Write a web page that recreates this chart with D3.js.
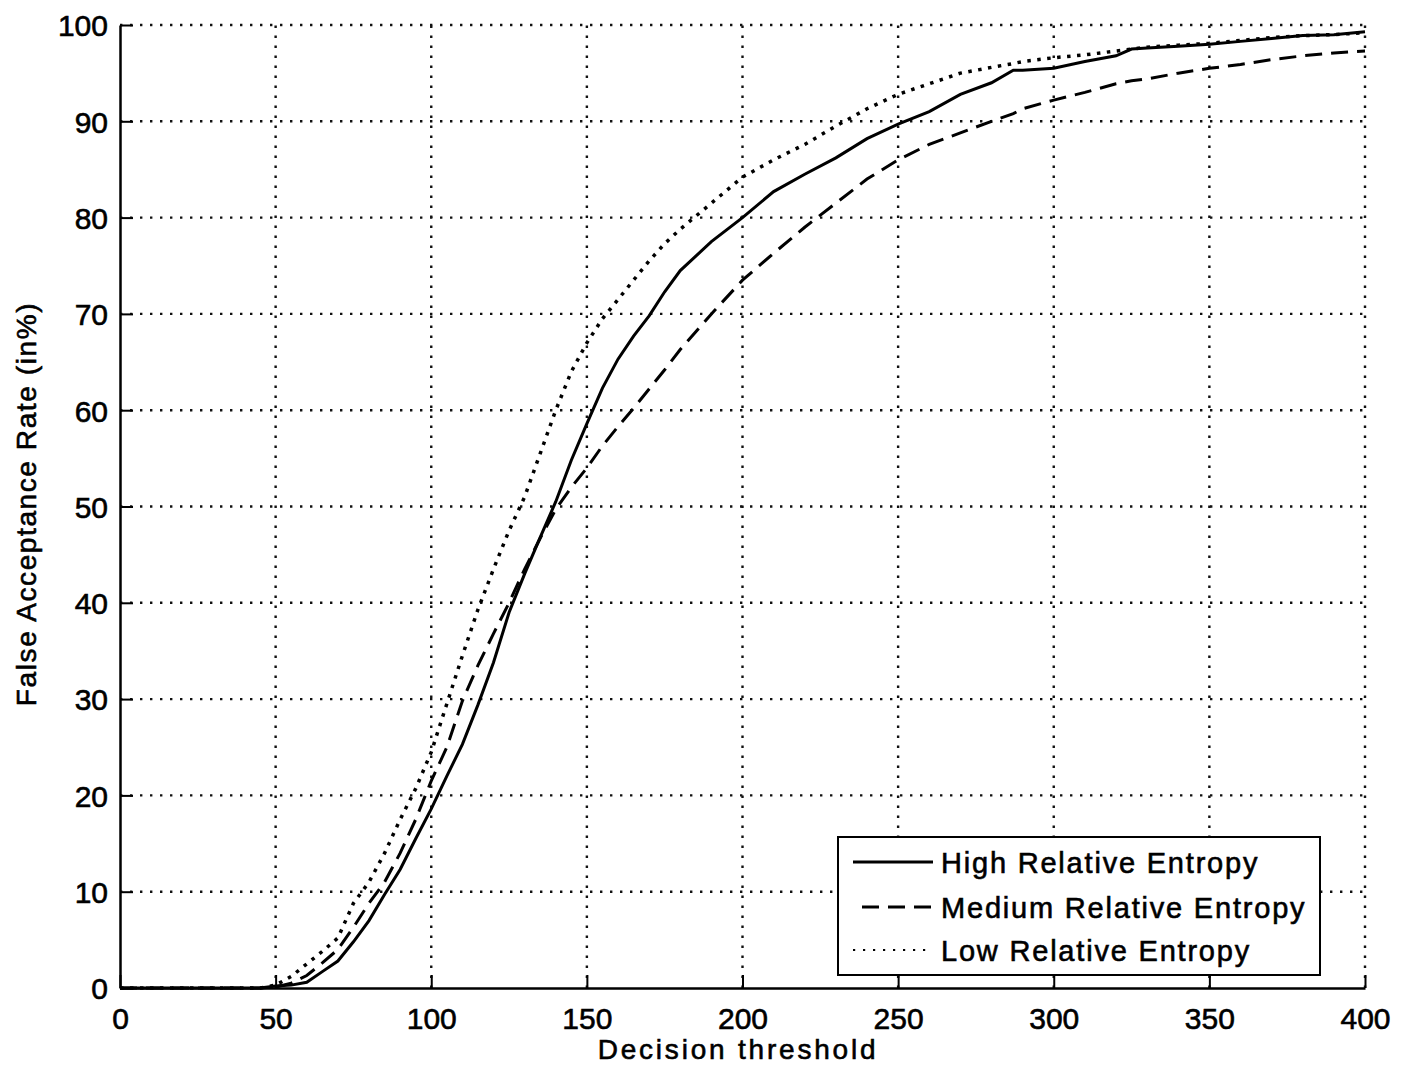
<!DOCTYPE html>
<html>
<head>
<meta charset="utf-8">
<script src="https://d3js.org/d3.v7.min.js"></script>
<style>
  body { margin: 0; background: #fff; }
  text { font-family: "Liberation Sans", Arial, sans-serif; fill: #000; stroke: #000; stroke-width: 0.6px; }
</style>
</head>
<body>
<div id="chart"></div>
<script>
// decision threshold values (x)
var thresholds = [0, 45, 50, 55, 60, 65, 70, 75, 80, 85, 90, 95, 100, 105, 110, 115, 120, 125, 130, 135,
  140, 145, 150, 155, 160, 165, 170, 175, 180, 190, 200, 210, 220, 230, 240, 250, 260, 270, 280, 287,
  290, 300, 310, 320, 325, 330, 340, 350, 360, 370, 380, 390, 400];

// false acceptance rate (%) per series
var farHigh = [0, 0, 0.2, 0.3, 0.6, 1.7, 2.8, 4.8, 7, 9.7, 12.3, 15.5, 18.6, 22, 25.3, 29.4, 33.8, 39, 43, 46.8,
  50.5, 54.8, 58.6, 62.3, 65.3, 67.7, 69.8, 72.3, 74.5, 77.5, 80, 82.7, 84.5, 86.2, 88.2, 89.7, 91, 92.8, 94, 95.3,
  95.3, 95.5, 96.2, 96.8, 97.5, 97.6, 97.8, 98, 98.3, 98.6, 98.9, 99, 99.3];
var farMedium = [0, 0, 0.1, 0.5, 1.3, 2.6, 4, 6.3, 8.8, 11, 14, 17.5, 21.5, 25, 29.8, 33.5, 36.8, 40, 43.5, 46.7,
  49.7, 52, 54, 56.3, 58.3, 60.2, 62.2, 64.2, 66.3, 70, 73.5, 76.3, 79, 81.5, 84, 86, 87.6, 88.8, 90, 90.8,
  91.3, 92.2, 93, 93.9, 94.2, 94.4, 95, 95.5, 95.9, 96.4, 96.8, 97.1, 97.3];
var farLow = [0, 0, 0.3, 1.2, 2.5, 3.8, 5.2, 8.8, 11, 14, 17.5, 20.7, 24.5, 29.5, 34.5, 39.3, 43.5, 47.5, 51, 55.5,
  60, 64, 67, 69.5, 71.5, 73.5, 75.5, 77.3, 78.8, 81.5, 84.2, 86, 87.6, 89.5, 91.3, 92.8, 93.9, 95, 95.6, 96,
  96.2, 96.6, 96.9, 97.3, 97.5, 97.7, 97.9, 98.1, 98.4, 98.7, 98.9, 99, 99.2];

var seriesNames = ["High Relative Entropy", "Medium Relative Entropy", "Low Relative Entropy"];
var xTicks = [0, 50, 100, 150, 200, 250, 300, 350, 400];
var yTicks = [0, 10, 20, 30, 40, 50, 60, 70, 80, 90, 100];

var W = 1405, H = 1066;
var svg = d3.select("#chart").append("svg").attr("width", W).attr("height", H);

var x = d3.scaleLinear().domain([0, 400]).range([120, 1365]);
var y = d3.scaleLinear().domain([0, 100]).range([988, 25]);

// dotted grid
svg.selectAll(".vgrid").data(xTicks.slice(1)).enter().append("line")
  .attr("x1", d => x(d)).attr("x2", d => x(d))
  .attr("y1", y(0)).attr("y2", y(100))
  .attr("stroke", "#111").attr("stroke-width", 2.4).attr("stroke-dasharray", "2.4,7.6");
svg.selectAll(".hgrid").data(yTicks.slice(1)).enter().append("line")
  .attr("x1", x(0)).attr("x2", x(400))
  .attr("y1", d => y(d)).attr("y2", d => y(d))
  .attr("stroke", "#111").attr("stroke-width", 2.4).attr("stroke-dasharray", "2.4,7.6");

// axes (left + bottom only, ticks inward)
var xAxis = d3.axisBottom(x).tickValues(xTicks).tickSizeInner(-13).tickSizeOuter(0).tickPadding(20);
var yAxis = d3.axisLeft(y).tickValues(yTicks).tickSizeInner(-13).tickSizeOuter(0).tickPadding(12);

var gx = svg.append("g").attr("transform", "translate(0," + y(0) + ")").call(xAxis);
var gy = svg.append("g").attr("transform", "translate(" + x(0) + ",0)").call(yAxis);
[gx, gy].forEach(function (g) {
  g.select(".domain").attr("stroke", "#000").attr("stroke-width", 2.5);
  g.selectAll(".tick line").attr("stroke", "#000").attr("stroke-width", 2);
  g.selectAll(".tick text").style("font-size", "30px").style("font-family", "Liberation Sans, Arial, sans-serif")
    .attr("fill", "#000").attr("stroke", "#000").attr("stroke-width", 0.6);
});
gx.selectAll(".tick text").attr("dy", "0.71em");
gy.selectAll(".tick text").attr("dy", "0.36em");

// curves
var line = d3.line().x(d => x(d[0])).y(d => y(d[1]));
var styles = [
  { data: farHigh, dash: null, w: 3 },
  { data: farMedium, dash: "17,9", w: 3 },
  { data: farLow, dash: "3.5,6.5", w: 3.5 }
];
styles.forEach(function (s) {
  svg.append("path")
    .datum(thresholds.map((t, i) => [t, s.data[i]]))
    .attr("d", line)
    .attr("fill", "none")
    .attr("stroke", "#000")
    .attr("stroke-width", s.w)
    .attr("stroke-dasharray", s.dash);
});

// legend
var lg = svg.append("g");
lg.append("rect").attr("x", 838).attr("y", 837).attr("width", 482).attr("height", 138)
  .attr("fill", "#fff").attr("stroke", "#000").attr("stroke-width", 2);
var rowY = [862, 907, 950];
seriesNames.forEach(function (name, i) {
  lg.append("line").attr("x1", i === 1 ? 862 : 853).attr("x2", 933)
    .attr("y1", rowY[i]).attr("y2", rowY[i])
    .attr("stroke", "#000").attr("stroke-width", i === 2 ? 2.2 : 3)
    .attr("stroke-dasharray", styles[i].dash ? (i === 2 ? "2.2,7.8" : "17,9") : null);
  lg.append("text").attr("x", 941).attr("y", rowY[i] + 11)
    .style("font-size", "29px").style("letter-spacing", "1.8px")
    .text(name);
});

// axis titles
svg.append("text").attr("x", 738).attr("y", 1059)
  .attr("text-anchor", "middle").style("font-size", "28px").style("letter-spacing", "2.8px")
  .text("Decision threshold");
svg.append("text").attr("transform", "translate(36,504) rotate(-90)")
  .attr("text-anchor", "middle").style("font-size", "28px").style("letter-spacing", "1.6px")
  .text("False Acceptance Rate (in%)");
</script>
</body>
</html>
